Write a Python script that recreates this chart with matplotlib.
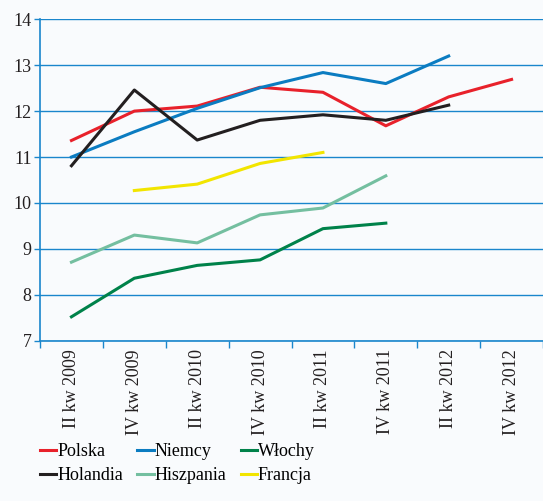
import matplotlib
matplotlib.use("Agg")
import matplotlib.pyplot as plt
import numpy as np

plt.rcParams['font.family'] = ['Liberation Serif', 'DejaVu Serif']

okresy = ["II kw 2009", "IV kw 2009", "II kw 2010", "IV kw 2010",
          "II kw 2011", "IV kw 2011", "II kw 2012", "IV kw 2012"]

nan = np.nan
polska = [11.36, 12.0, 12.11, 12.52, 12.41, 11.68, 12.31, 12.69]
niemcy = [11.0, 11.55, 12.06, 12.51, 12.84, 12.6, 13.2, nan]
wlochy = [7.52, 8.36, 8.64, 8.76, 9.44, 9.56, nan, nan]
holandia = [10.81, 12.46, 11.37, 11.8, 11.92, 11.8, 12.13, nan]
hiszpania = [8.71, 9.3, 9.13, 9.74, 9.89, 10.59, nan, nan]
francja = [nan, 10.27, 10.41, 10.86, 11.1, nan, nan, nan]

niebieski = "#1a86cc"

fig = plt.figure(figsize=(5.43, 5.01), dpi=100, facecolor="#f9fbfd")
ax = fig.add_axes([0.0737, 0.320, 0.9263, 0.6415])
ax.set_facecolor("#f9fbfd")

x = np.arange(len(okresy))
ax.plot(x, polska, color="#e8212b", lw=2.2, label="Polska")
ax.plot(x, niemcy, color="#0b7cc1", lw=2.2, label="Niemcy")
ax.plot(x, wlochy, color="#00824a", lw=2.2, label="Włochy")
ax.plot(x, holandia, color="#231f20", lw=2.2, label="Holandia")
ax.plot(x, hiszpania, color="#74bfa0", lw=2.2, label="Hiszpania")
ax.plot(x, francja, color="#f2e500", lw=2.2, label="Francja")

ax.set_ylim(7, 14)
ax.set_xlim(-0.5, 7.42)
ax.set_yticks(range(7, 15))
ax.yaxis.grid(True, color=niebieski, lw=1)
ax.set_axisbelow(True)

ax.set_xticks(x)
ax.set_xticklabels(okresy, rotation=90, fontsize=13, color="#231f20")
ax.set_xticks(np.arange(-0.5, 8, 1), minor=True)
ax.tick_params(axis="x", which="major", length=0, pad=6)
ax.tick_params(axis="x", which="minor", length=5, color=niebieski, width=1)
ax.tick_params(axis="y", length=4, color=niebieski, width=1, labelsize=13,
               labelcolor="#231f20", pad=2)

for s in ["top", "right"]:
    ax.spines[s].set_visible(False)
for s in ["left", "bottom"]:
    ax.spines[s].set_color(niebieski)
    ax.spines[s].set_linewidth(1.2)

uchwyty, etykiety = ax.get_legend_handles_labels()
kolejnosc = [0, 3, 1, 4, 2, 5]
fig.legend([uchwyty[i] for i in kolejnosc], [etykiety[i] for i in kolejnosc],
           ncol=3, loc="upper left", bbox_to_anchor=(0.057, 0.134),
           frameon=False, fontsize=13, handlelength=0.9, handletextpad=0.05,
           columnspacing=0.8, labelspacing=0.42, borderpad=0)

fig.savefig("out.png", dpi=100, facecolor=fig.get_facecolor())
